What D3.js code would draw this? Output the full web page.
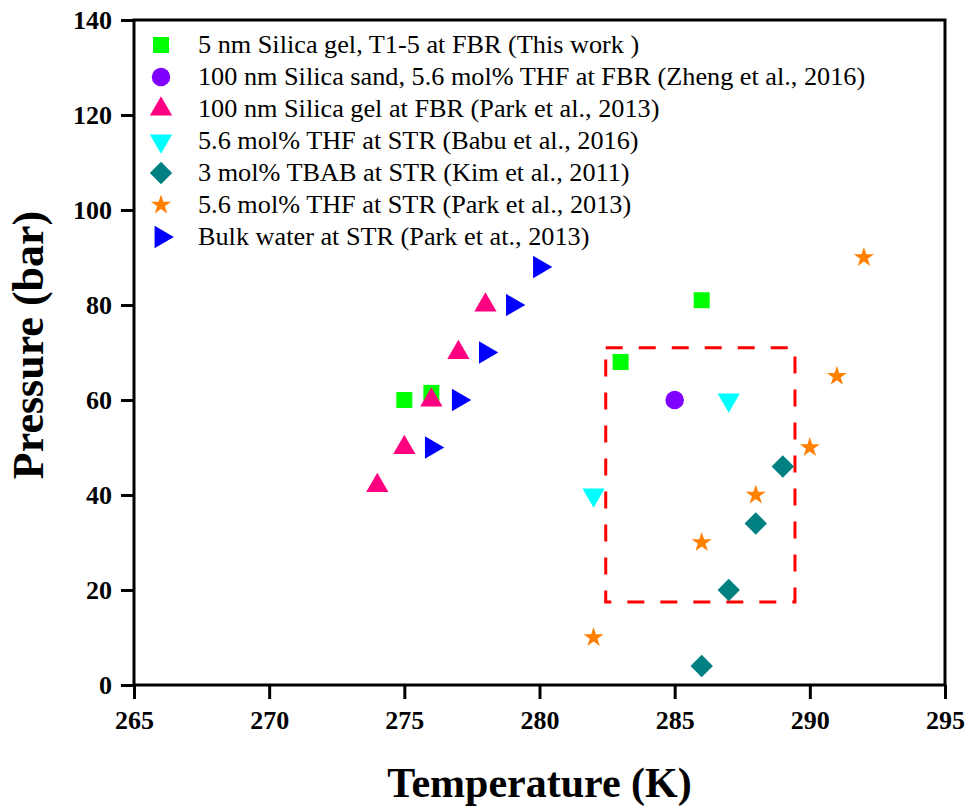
<!DOCTYPE html>
<html>
<head>
<meta charset="utf-8">
<script src="https://cdn.jsdelivr.net/npm/d3@7"></script>
<style>
  body { margin: 0; background: #fff; }
  text { font-family: "Liberation Serif", "Times New Roman", serif; }
</style>
</head>
<body>
<div id="chart"></div>
<script>
// Chart size
var width = 969;
var height = 810;
var margin = {top: 20, right: 24, bottom: 125, left: 134};

// Series names (legend order)
var seriesNames = [
    "5 nm Silica gel, T1-5 at FBR (This work )",
    "100 nm Silica sand, 5.6 mol% THF at FBR (Zheng et al., 2016)",
    "100 nm Silica gel at FBR (Park et al., 2013)",
    "5.6 mol% THF at STR (Babu et al., 2016)",
    "3 mol% TBAB at STR (Kim et al., 2011)",
    "5.6 mol% THF at STR (Park et al., 2013)",
    "Bulk water at STR (Park et at., 2013)"
];

// Data: [temperature K, pressure bar]
var silicaGel5nm = [[275, 60], [276, 61.5], [283, 68], [286, 81]];
var silicaSand100nm = [[285, 60]];
var silicaGel100nm = [[274, 42], [275, 50], [276, 60], [277, 70], [278, 80]];
var thfBabu = [[282, 40], [287, 60]];
var tbabKim = [[286, 4], [287, 20], [288, 34], [289, 46]];
var thfPark = [[282, 10], [286, 30], [288, 40], [290, 50], [291, 65], [292, 90]];
var bulkWater = [[276, 50], [277, 60], [278, 70], [279, 80], [280, 88]];

// Dashed highlight region (data units)
var boxTemp = [282.45, 289.45];
var boxPress = [17.5, 71];

// Axis ticks
var xTicks = [265, 270, 275, 280, 285, 290, 295];
var yTicks = [0, 20, 40, 60, 80, 100, 120, 140];

var seriesData = [silicaGel5nm, silicaSand100nm, silicaGel100nm, thfBabu, tbabKim, thfPark, bulkWater];
var colors = ["#00ff00", "#8000ff", "#ff0080", "#00ffff", "#008080", "#ff8000", "#0000ff"];
var shapes = [
    {type: d3.symbolSquare, size: 256, rotate: 0},
    {type: d3.symbolCircle, size: 270, rotate: 0},
    {type: d3.symbolTriangle, size: 215, rotate: 0},
    {type: d3.symbolTriangle, size: 215, rotate: 180},
    {type: d3.symbolSquare, size: 250, rotate: 45},
    {type: d3.symbolStar, size: 125, rotate: 0},
    {type: d3.symbolTriangle, size: 215, rotate: 90}
];

var svg = d3.select("#chart")
    .append("svg")
    .attr("width", width)
    .attr("height", height);

var x = d3.scaleLinear()
    .domain([265, 295])
    .range([margin.left, width - margin.right]);

var y = d3.scaleLinear()
    .domain([0, 140])
    .range([height - margin.bottom, margin.top]);

// Axes
var xAxis = svg.append("g")
    .attr("transform", "translate(0," + (height - margin.bottom) + ")")
    .call(d3.axisBottom(x).tickValues(xTicks).tickSize(14).tickPadding(12).tickSizeOuter(0));

var yAxis = svg.append("g")
    .attr("transform", "translate(" + margin.left + ",0)")
    .call(d3.axisLeft(y).tickValues(yTicks).tickSize(13).tickPadding(9).tickSizeOuter(0));

[xAxis, yAxis].forEach(function(g) {
    g.attr("font-family", "'Liberation Serif', 'Times New Roman', serif")
        .attr("font-size", 26)
        .attr("font-weight", "bold");
    g.select(".domain").remove();
    g.selectAll(".tick line").attr("stroke", "#000").attr("stroke-width", 3);
    g.selectAll(".tick text").attr("fill", "#000");
});

// Frame
svg.append("rect")
    .attr("x", margin.left)
    .attr("y", margin.top)
    .attr("width", width - margin.left - margin.right)
    .attr("height", height - margin.top - margin.bottom)
    .attr("fill", "none")
    .attr("stroke", "#000")
    .attr("stroke-width", 3);

// Axis titles
svg.append("text")
    .attr("x", (margin.left + width - margin.right) / 2)
    .attr("y", 797)
    .attr("text-anchor", "middle")
    .style("font-weight", "bold")
    .style("font-size", "42px")
    .text("Temperature (K)");

svg.append("text")
    .attr("transform", "translate(43,345) rotate(-90)")
    .attr("text-anchor", "middle")
    .style("font-weight", "bold")
    .style("font-size", "44px")
    .text("Pressure (bar)");

// Dashed rectangle
svg.append("rect")
    .attr("x", x(boxTemp[0]))
    .attr("y", y(boxPress[1]))
    .attr("width", x(boxTemp[1]) - x(boxTemp[0]))
    .attr("height", y(boxPress[0]) - y(boxPress[1]))
    .attr("fill", "none")
    .attr("stroke", "#ff0000")
    .attr("stroke-width", 3)
    .attr("stroke-dasharray", "17,16");

// Points
seriesData.forEach(function(data, i) {
    var sym = d3.symbol().type(shapes[i].type).size(shapes[i].size);
    svg.append("g")
        .selectAll("path")
        .data(data)
        .enter()
        .append("path")
        .attr("d", sym)
        .attr("transform", function(d) {
            return "translate(" + x(d[0]) + "," + y(d[1]) + ") rotate(" + shapes[i].rotate + ")";
        })
        .attr("fill", colors[i]);
});

// Legend
var legend = svg.append("g");
seriesNames.forEach(function(name, i) {
    var ly = 45 + i * 32;
    legend.append("path")
        .attr("d", d3.symbol().type(shapes[i].type).size(shapes[i].size)())
        .attr("transform", "translate(161," + ly + ") rotate(" + shapes[i].rotate + ")")
        .attr("fill", colors[i]);
    legend.append("text")
        .attr("transform", "translate(198," + (ly + 8) + ") scale(1.05,1)")
        .style("font-size", "25px")
        .attr("fill", "#000")
        .text(name);
});
</script>
</body>
</html>
